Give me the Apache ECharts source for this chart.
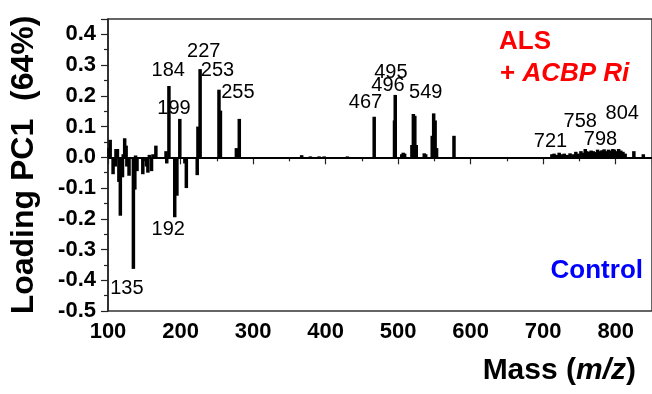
<!DOCTYPE html>
<html lang="en">
<head>
    <meta charset="UTF-8">
    <title>Loading PC1</title>
    <script src="https://cdn.jsdelivr.net/npm/echarts@6/dist/echarts.min.js"></script>
    <style>
        body { margin: 0; background: #fff; }
    </style>
</head>
<body>
    <div id="ec" style="width:652px;height:394px"></div>
</body>
<script>
    // peaks: m/z and loading value
    var masses = [101, 103, 107, 110, 111, 113, 115, 117, 120, 121, 123, 125, 126, 129,
        135, 137, 138, 140, 148, 153, 155, 157, 160, 162, 166, 180, 181, 184,
        192, 195, 199, 206, 208, 223, 224, 227, 253, 255, 277, 281, 316,
        367, 379, 391, 398, 405, 430, 467, 495, 496, 505, 507, 509, 519, 521, 523, 525,
        536, 538, 547, 549, 551, 553, 577, 659, 672, 689,
        712, 715, 718, 722, 725, 729, 733, 737, 741, 745, 748, 752, 755, 758, 760, 763,
        766, 769, 772, 775, 778, 781, 784, 787, 790, 793, 796, 798, 801, 804, 807, 810,
        813, 825, 838]
    var loadings = [0.03, 0.057, -0.055, -0.03, 0.027, 0.027, -0.08, -0.19, -0.065, 0.01, 0.062, 0.038, -0.03, -0.06,
        -0.363, -0.105, 0.006, -0.045, -0.055, -0.03, -0.05, 0.008, -0.045, 0.01, 0.038, 0.02, -0.02, 0.232,
        -0.195, -0.125, 0.125, -0.02, -0.1, -0.058, 0.1, 0.287, 0.22, 0.152, 0.03, 0.125, -0.004,
        0.007, 0.003, 0.003, 0.003, -0.004, 0.003, 0.132, 0.12, 0.203, 0.01, 0.015, 0.012, 0.04, 0.141, 0.135, 0.04,
        0.013, 0.01, 0.07, 0.143, 0.12, 0.03, 0.07, -0.003, -0.002, -0.005,
        0.01, 0.012, 0.008, 0.015, 0.01, 0.012, 0.008, 0.013, 0.01, 0.018, 0.012, 0.02, 0.015, 0.027, 0.02, 0.018,
        0.022, 0.02, 0.017, 0.025, 0.02, 0.023, 0.026, 0.02, 0.025, 0.022, 0.027, 0.025, 0.02, 0.027, 0.022, 0.018,
        0.012, 0.02, 0.01]

    // peak annotations: text, and where the text sits (m/z, loading)
    var peakTexts = ['184', '227', '253', '255', '199', '192', '135', '467', '495', '496', '549', '721', '758', '798', '804']
    var textMass = [183, 232, 251, 279, 191, 183, 126, 455, 490, 486, 538, 710, 751, 779, 809]
    var textLoading = [0.282, 0.344, 0.284, 0.21, 0.16, -0.234, -0.426, 0.179, 0.277, 0.233, 0.21, 0.053, 0.118, 0.058, 0.141]

    var xTicks = [100, 200, 300, 400, 500, 600, 700, 800]
    var yTicks = [-0.5, -0.4, -0.3, -0.2, -0.1, 0.0, 0.1, 0.2, 0.3, 0.4]

    var bars = masses.map(function (m, i) { return [m, loadings[i]] })
    var notes = peakTexts.map(function (t, i) { return [textMass[i], textLoading[i], t] })

    var font = 'Liberation Sans, Arial, sans-serif'
    var axisColor = '#222'

    var mychart = echarts.init(document.getElementById('ec'))
    var options = {
        animation: false,
        grid: {
            left: 108, right: 0, top: 19, bottom: 83,
            show: true, borderColor: '#333', borderWidth: 1.5
        },
        xAxis: {
            type: 'value',
            min: 100, max: 850, interval: 100,
            axisLine: { lineStyle: { color: axisColor, width: 1.5 } },
            axisTick: { length: 7, lineStyle: { color: axisColor, width: 1.2 } },
            minorTick: { show: true, splitNumber: 2, length: 4, lineStyle: { color: axisColor, width: 1.2 } },
            splitLine: { show: false },
            axisLabel: {
                margin: 10, color: '#000', fontSize: 22, fontWeight: 'bold', fontFamily: font,
                showMaxLabel: false,
                formatter: function (v) { return xTicks.indexOf(v) >= 0 ? String(v) : '' }
            }
        },
        yAxis: {
            type: 'value',
            min: -0.5, max: 0.45, interval: 0.1,
            name: 'Loading PC1  (64%)',
            nameLocation: 'middle',
            nameGap: 68,
            nameTextStyle: { color: '#000', fontSize: 32, fontWeight: 'bold', fontFamily: font },
            axisLine: { lineStyle: { color: axisColor, width: 1.5 } },
            axisTick: { length: 7, lineStyle: { color: axisColor, width: 1.2 } },
            minorTick: { show: true, splitNumber: 2, length: 4, lineStyle: { color: axisColor, width: 1.2 } },
            splitLine: { show: false },
            axisLabel: {
                margin: 12, color: '#000', fontSize: 22, fontWeight: 'bold', fontFamily: font,
                showMaxLabel: false,
                formatter: function (v) {
                    var r = Math.round(v * 10) / 10
                    return yTicks.indexOf(r) >= 0 && Math.abs(v - r) < 1e-6 ? r.toFixed(1) : ''
                }
            }
        },
        graphic: [
            {
                type: 'text', left: 499, top: 29,
                style: { text: 'ALS', fill: '#ff0000', font: 'bold 26px ' + font }
            },
            {
                type: 'text', left: 500, top: 61,
                style: {
                    text: '{a|+ }{b|ACBP Ri}',
                    rich: {
                        a: { fill: '#ff0000', font: 'bold 26px ' + font },
                        b: { fill: '#ff0000', font: 'italic bold 26px ' + font }
                    }
                }
            },
            {
                type: 'text', right: 9, top: 258,
                style: { text: 'Control', fill: '#0000ff', font: 'bold 26px ' + font }
            },
            {
                type: 'text', right: 16, top: 356,
                style: {
                    text: '{a|Mass (}{b|m/z}{a|)}',
                    rich: {
                        a: { fill: '#000', font: 'bold 30px ' + font },
                        b: { fill: '#000', font: 'italic bold 30px ' + font }
                    }
                }
            }
        ],
        series: [
            {
                type: 'bar',
                data: bars,
                barWidth: 3.5,
                itemStyle: { color: '#000' },
                markLine: {
                    silent: true,
                    symbol: 'none',
                    label: { show: false },
                    lineStyle: { color: '#000', width: 2, type: 'solid' },
                    data: [{ yAxis: 0 }]
                }
            },
            {
                type: 'scatter',
                data: notes,
                symbolSize: 0,
                silent: true,
                itemStyle: { opacity: 1, color: '#000' },
                label: {
                    show: true,
                    position: 'inside',
                    color: '#000',
                    textBorderWidth: 0,
                    fontSize: 20,
                    fontFamily: font,
                    formatter: function (p) { return p.data[2] }
                }
            }
        ]
    }
    mychart.setOption(options)
</script>
</html>
